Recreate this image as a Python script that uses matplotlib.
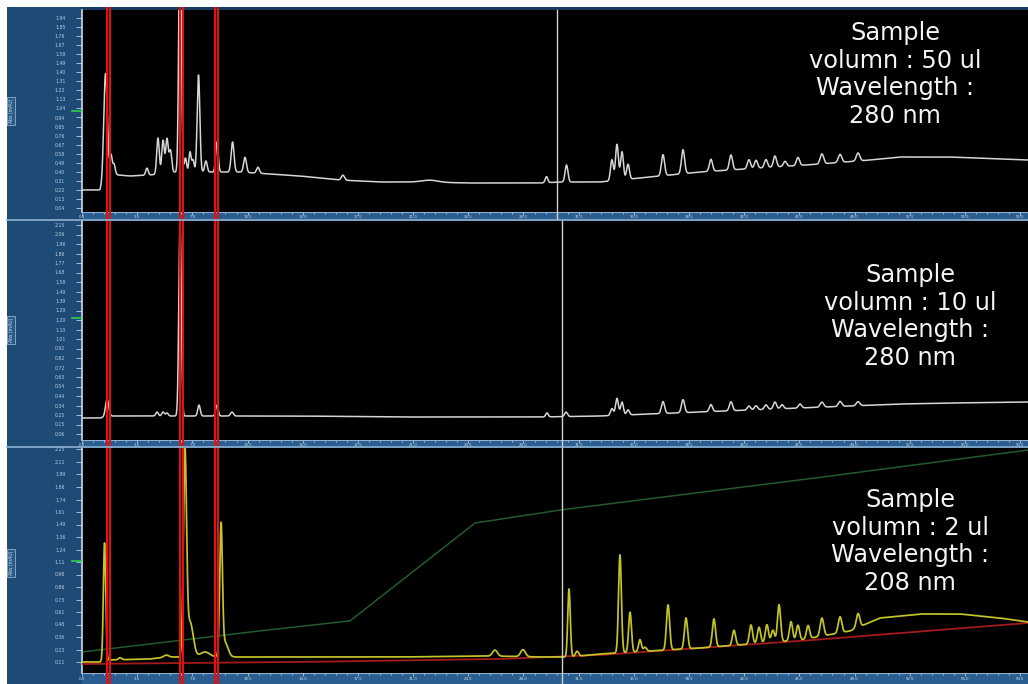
import numpy as np
import matplotlib
matplotlib.use("Agg")
import matplotlib.pyplot as plt
from matplotlib.patches import Rectangle
from matplotlib.lines import Line2D

# ---------------- data ----------------
T_MAX = 60.0  # retention time range (min)

# Run 1: 50 ul injection, 280 nm  (signal in mAU)
run1_base_t = [0, 1.14, 1.65, 1.90, 2.3, 3.04, 4.31, 5.90, 7.48, 10.02, 11.92, 13.83, 16.36,
               18.90, 21.44, 24.61, 29.05, 30.32, 32.85, 35.39, 39.20, 43.00, 46.81, 49.98,
               51.88, 55.05, 58.22, 60]
run1_base_v = [22, 22, 40, 40, 37, 36, 37, 40, 40, 40, 38, 36, 32,
               30, 30, 29, 29, 30, 30, 34, 40, 44, 48, 52,
               55, 55, 53, 52]
run1_peak_t = [1.49, 1.84, 2.03, 4.12, 4.82, 5.14, 5.39, 5.61, 6.22, 6.56, 6.85, 7.04, 7.39,
               7.86, 8.56, 9.55, 10.34, 11.16, 16.55, 22.07, 29.46, 30.73, 33.61, 33.93,
               34.25, 34.63, 36.85, 38.12, 39.89, 41.16, 42.30, 42.75, 43.38, 43.95, 44.59,
               45.41, 46.93, 48.08, 49.22]
run1_peak_h = [104, 17, 9, 7, 36, 33, 34, 22, 260, 14, 20, 12, 97,
               11, 30, 30, 15, 6, 5, 2, 6, 17, 21, 36,
               28, 15, 21, 24, 12, 15, 9, 8, 8, 11, 5,
               8, 10, 8, 8]
run1_peak_w = [0.11, 0.07, 0.07, 0.08, 0.08, 0.08, 0.08, 0.08, 0.08, 0.07, 0.07, 0.07, 0.085,
               0.08, 0.08, 0.09, 0.09, 0.09, 0.1, 0.5, 0.08, 0.09, 0.09, 0.09,
               0.09, 0.09, 0.1, 0.1, 0.1, 0.1, 0.1, 0.1, 0.1, 0.1, 0.1,
               0.1, 0.11, 0.11, 0.11]

# Run 2: 10 ul injection, 280 nm
run2_base_t = [0, 1.14, 1.65, 7.5, 13.83, 20.2, 29.05, 32.85, 39.20, 45.54, 51.88, 55.05, 60]
run2_base_v = [22, 22, 24, 24, 24, 23, 23, 24, 28, 32, 36, 37, 38]
run2_peak_t = [1.59, 4.76, 5.14, 5.39, 6.22, 7.42, 8.56, 9.51, 29.49, 30.70, 33.61, 33.93,
               34.25, 34.63, 36.85, 38.12, 39.89, 41.16, 42.30, 42.75, 43.38, 43.95, 44.40,
               45.54, 46.93, 48.08, 49.22]
run2_peak_h = [17, 4, 4, 3, 191, 11, 11, 4, 4, 4.5, 7, 17,
               13, 5, 12, 13, 7, 9, 4, 4, 4.5, 7, 4,
               4, 5, 5, 4]
run2_peak_w = [0.1, 0.08, 0.08, 0.08, 0.08, 0.08, 0.08, 0.09, 0.08, 0.09, 0.09, 0.09,
               0.09, 0.09, 0.1, 0.1, 0.1, 0.1, 0.1, 0.1, 0.1, 0.1, 0.1,
               0.1, 0.11, 0.11, 0.11]

# Run 3: 2 ul injection, 208 nm
run3_base_t = [0, 1.14, 1.65, 4.3, 5.4, 10.5, 13.83, 20.2, 26.0, 29.05, 30.9, 32.85, 39.20,
               45.54, 48.7, 50.6, 53.2, 55.7, 58.2, 60]
run3_base_v = [11, 11, 13, 14, 16, 16, 16, 16, 17, 16, 16, 19, 25,
               33, 42, 55, 59, 59, 55, 51]
run3_peak_t = [1.43, 2.41, 5.33, 6.53, 6.85, 7.80, 8.82, 9.05, 26.19, 27.97, 30.89, 31.40,
               34.12, 34.76, 35.39, 35.71, 37.17, 38.31, 40.08, 41.35, 42.43, 42.94, 43.44,
               43.82, 44.21, 44.97, 45.41, 46.05, 46.93, 48.08, 49.22]
run3_peak_h = [118, 2, 2, 200, 35, 5, 127, 15, 6, 7, 68, 5,
               98, 40, 12, 4, 45, 31, 28, 15, 19, 16, 18,
               12, 37, 19, 15, 13, 18, 16, 14]
run3_peak_w = [0.075, 0.1, 0.15, 0.1, 0.2, 0.3, 0.085, 0.2, 0.15, 0.15, 0.08, 0.1,
               0.09, 0.09, 0.09, 0.1, 0.1, 0.1, 0.1, 0.1, 0.1, 0.1, 0.1,
               0.1, 0.1, 0.1, 0.1, 0.1, 0.11, 0.11, 0.11]

# Run 3 auxiliary traces: reference channel and solvent gradient
run3_ref_t = [0, 13.83, 26.5, 32.85, 39.2, 45.54, 51.88, 60]
run3_ref_v = [9, 11, 14, 18, 25, 32, 40, 50]
run3_grad_t = [0, 10.65, 16.99, 24.92, 30.32, 35.39, 45.54, 60]
run3_grad_v = [21, 41, 52, 150, 163, 173, 193, 223]

# Marker pairs and cursor (min)
marker_pairs = [(1.59, 1.78), (6.22, 6.41), (8.44, 8.63)]
cursor_run1 = 30.13
cursor_run23 = 30.44

captions = [
    ["Sample", "volumn : 50 ul", "Wavelength :", "280 nm"],
    ["Sample", "volumn : 10 ul", "Wavelength :", "280 nm"],
    ["Sample", "volumn : 2 ul", "Wavelength :", "208 nm"],
]

# ---------------- drawing ----------------
W, H = 1028, 684
fig = plt.figure(figsize=(W / 100, H / 100), dpi=100)
fig.patch.set_facecolor("white")


def box(x0, y0, x1, y1):
    return [x0 / W, 1 - y1 / H, (x1 - x0) / W, (y1 - y0) / H]


def chromatogram(t, bt, bv, pt, ph, pw):
    sig = np.interp(t, bt, bv)
    for t0, h, w in zip(pt, ph, pw):
        sig = sig + h * np.exp(-0.5 * ((t - t0) / w) ** 2)
    return sig


FRAME = "#1e4b76"
STRIP = "#2b5e90"
LIGHT = "#b9cde2"

# instrument frame behind everything
bg = fig.add_axes([0, 0, 1, 1], zorder=-5)
bg.set_xlim(0, W)
bg.set_ylim(H, 0)
bg.set_axis_off()
bg.add_patch(Rectangle((7, 7), W - 7, H - 7, facecolor=FRAME, edgecolor="none"))
bg.add_patch(Rectangle((82, 7), W - 82, 3, facecolor="#163b60", edgecolor="none"))

t = np.linspace(0, T_MAX, 8000)

panels = [
    dict(top=10, bottom=212, strip=219, ymax=202, tick0=4, tstep=9.05, cx=895,
         base=(run1_base_t, run1_base_v), peaks=(run1_peak_t, run1_peak_h, run1_peak_w),
         color="#d6d6d6", lw=1.1, mark_y=111, label_y=(97, 125), y0=40),
    dict(top=221, bottom=440, strip=446, ymax=219, tick0=6, tstep=9.5, cx=910,
         base=(run2_base_t, run2_base_v), peaks=(run2_peak_t, run2_peak_h, run2_peak_w),
         color="#d6d6d6", lw=1.1, mark_y=318, label_y=(316, 344), y0=282),
    dict(top=448, bottom=673, strip=684, ymax=225, tick0=11, tstep=12.5, cx=910,
         base=(run3_base_t, run3_base_v), peaks=(run3_peak_t, run3_peak_h, run3_peak_w),
         color="#c4c428", lw=1.25, mark_y=561, label_y=(543, 583), y0=507),
]

for i, p in enumerate(panels):
    ax = fig.add_axes(box(82, p["top"], W, p["bottom"]))
    ax.set_facecolor("black")
    ax.set_xlim(0, T_MAX)
    ax.set_ylim(0, p["ymax"])
    for s in ("top", "right", "bottom"):
        ax.spines[s].set_visible(False)
    ax.spines["left"].set_color("#c9d9ea")
    ax.spines["left"].set_linewidth(1.2)
    ax.set_xticks([])
    yt = np.arange(p["tick0"], p["ymax"], p["tstep"])
    ax.set_yticks(yt)
    ax.set_yticklabels([f"{v / 100:.2f}" for v in yt])
    ax.tick_params(axis="y", direction="out", length=4, width=0.6, color=LIGHT,
                   labelsize=3.3, labelcolor=LIGHT, pad=8)

    if i == 2:
        ax.plot(t, np.interp(t, run3_grad_t, run3_grad_v), color="#215c2a", lw=1.1, zorder=2)
        ax.plot(t, np.interp(t, run3_ref_t, run3_ref_v), color="#a51a1a", lw=1.3, zorder=3)
    sig = chromatogram(t, *p["base"], *p["peaks"])
    ax.plot(t, sig, color=p["color"], lw=p["lw"], zorder=4)

    # time-axis strip under the trace
    sax = fig.add_axes(box(82, p["bottom"], W, p["strip"]))
    sax.set_facecolor(STRIP)
    sax.set_xlim(0, T_MAX)
    sax.set_ylim(0, 1)
    for s in sax.spines.values():
        s.set_visible(False)
    sax.set_yticks([])
    major = np.arange(0, T_MAX, 3.5)
    sax.set_xticks(major)
    sax.set_xticks(np.arange(0, T_MAX, 0.7), minor=True)
    sax.tick_params(axis="x", which="both", direction="in", top=True, bottom=False,
                    labelbottom=False, labeltop=False, color="#d8e4f0", width=0.5)
    sax.tick_params(axis="x", which="major", length=2.2)
    sax.tick_params(axis="x", which="minor", length=1.2)
    for m in major:
        sax.text(m, 0.25 if i < 2 else 0.45, f"{m:.1f}", fontsize=2.8, color="#d0dcea",
                 ha="center", va="center")
    sax.axhline(1.0, color="#8fb0d0", lw=0.8)

    # green level marker on the signal axis
    fig.add_artist(Line2D([72 / W, 81 / W], [1 - p["mark_y"] / H] * 2,
                          color="#2fd04a", lw=1.2))
    # rotated axis title box
    ly0, ly1 = p["label_y"]
    fig.text(11 / W, 1 - (ly0 + ly1) / 2 / H, "Abs (mAU)", rotation=90, fontsize=3.3,
             color="#cfdcea", ha="center", va="center",
             bbox=dict(boxstyle="square,pad=0.4", facecolor="#2c5a88", edgecolor="#aac2da", lw=0.5))

    # caption text
    for k, line in enumerate(captions[i]):
        yb = p["y0"] + 27.7 * k
        fig.text(p["cx"] / W, 1 - yb / H, line, ha="center", va="baseline",
                 fontsize=17.3, color="#f4f4f4", family="DejaVu Sans", zorder=10)

# separators between the stacked panels
for ys in (220, 447):
    fig.add_artist(Line2D([7 / W, 1], [1 - ys / H] * 2, color="#8fb2d2", lw=1.2))

# overlay for marker lines and cursor spanning all panels
oax = fig.add_axes(box(82, 7, W, H))
oax.set_xlim(0, T_MAX)
oax.set_ylim(0, 1)
oax.set_axis_off()
span = H - 7
oax.axvline(cursor_run1, ymin=(H - 219) / span, ymax=(H - 10) / span, color="#cfcfcf", lw=1.0)
oax.axvline(cursor_run23, ymin=0, ymax=(H - 221) / span, color="#cfcfcf", lw=1.0)
for a, b in marker_pairs:
    oax.axvline(a, color="#e31212", lw=1.5)
    oax.axvline(b, color="#e31212", lw=1.5)

fig.savefig("out.png", dpi=100, facecolor=fig.get_facecolor())
